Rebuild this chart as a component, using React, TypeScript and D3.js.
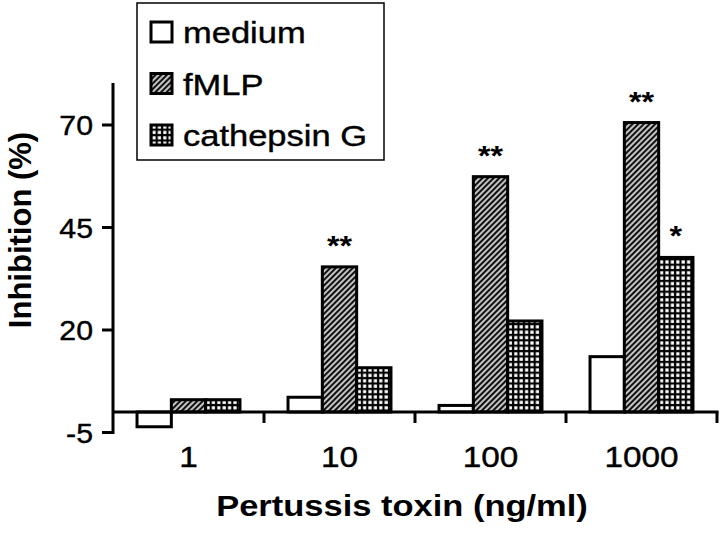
import React from "react";
import * as d3 from "d3";

const categories = ["1", "10", "100", "1000"];
const seriesNames = ["medium", "fMLP", "cathepsin G"];
const mediumValues = [-3.6, 3.6, 1.6, 13.5];
const fmlpValues = [3.0, 35.4, 57.4, 70.6];
const cathepsinValues = [3.0, 10.8, 22.2, 37.7];
const fmlpStars = ["", "**", "**", "**"];
const cathepsinStars = ["", "", "", "*"];
const yTicks = [-5, 20, 45, 70];

const FONT = "'Liberation Sans', Arial, Helvetica, sans-serif";
const SX = 1.15;

export default function App() {
  const W = 720, H = 534;
  const x = d3.scaleBand<string>().domain(categories).range([113, 717]).paddingInner(0).paddingOuter(0);
  const inner = d3.scaleBand<string>().domain(seriesNames).range([0, x.bandwidth()]).paddingInner(0).paddingOuter(0.7);
  const y = d3.scaleLinear().domain([-5, 80]).range([432.5, 84]);
  const fills = ["#fff", "url(#hatch)", "url(#grid)"];
  const allValues = [mediumValues, fmlpValues, cathepsinValues];
  const stars = [categories.map(() => ""), fmlpStars, cathepsinStars];
  const y0 = y(0);

  return (
    <svg width={W} height={H} style={{ position: "absolute", left: 0, top: 0, background: "#fff" }} fontFamily={FONT}>
      <defs>
        <pattern id="hatch" patternUnits="userSpaceOnUse" width={4} height={4} patternTransform="rotate(45)">
          <rect width={4} height={4} fill="#111" />
          <line x1={1} y1={0} x2={1} y2={4} stroke="#fff" strokeWidth={1.5} />
        </pattern>
        <pattern id="grid" patternUnits="userSpaceOnUse" width={5.4} height={5.4}>
          <rect width={5.4} height={5.4} fill="#000" />
          <rect x={1.2} y={1.2} width={3.2} height={3.2} fill="#fff" />
        </pattern>
      </defs>
      <rect width={W} height={H} fill="#fff" />

      {/* bars */}
      {seriesNames.map((s, si) =>
        categories.map((c, ci) => {
          const v = allValues[si][ci];
          const bx = (x(c) ?? 0) + (inner(s) ?? 0);
          const top = Math.min(y(v), y0);
          const h = Math.abs(y(v) - y0);
          return (
            <rect key={s + c} x={bx} y={top} width={inner.bandwidth()} height={h}
              fill={fills[si]} stroke="#000" strokeWidth={3} />
          );
        })
      )}

      {/* significance stars */}
      {seriesNames.map((s, si) =>
        categories.map((c, ci) => {
          const st = stars[si][ci];
          if (!st) return null;
          const cx = (x(c) ?? 0) + (inner(s) ?? 0) + inner.bandwidth() / 2;
          const ty = y(allValues[si][ci]) - 12;
          return (
            <text key={"st" + s + c} transform={`translate(${cx},${ty}) scale(${SX},1)`} textAnchor="middle"
              fontSize={28} fontWeight="bold">{st}</text>
          );
        })
      )}

      {/* y axis */}
      <line x1={113} x2={113} y1={83} y2={y(-5) + 1.5} stroke="#000" strokeWidth={3} />
      {yTicks.map((t) => (
        <g key={t}>
          <line x1={102} x2={113} y1={y(t)} y2={y(t)} stroke="#000" strokeWidth={3} />
          <text transform={`translate(93,${y(t) + 10}) scale(1.08,1)`} textAnchor="end" fontSize={28}
            stroke="#000" strokeWidth={0.4}>{t}</text>
        </g>
      ))}

      {/* x axis */}
      <line x1={113} x2={718.5} y1={y0} y2={y0} stroke="#000" strokeWidth={3} />
      {categories.map((c) => (
        <line key={"xt" + c} x1={(x(c) ?? 0) + x.bandwidth()} x2={(x(c) ?? 0) + x.bandwidth()}
          y1={y0} y2={y0 + 11} stroke="#000" strokeWidth={3} />
      ))}
      {categories.map((c) => (
        <text key={"xl" + c} transform={`translate(${(x(c) ?? 0) + x.bandwidth() / 2},467) scale(${SX},1)`}
          textAnchor="middle" fontSize={29} stroke="#000" strokeWidth={0.4}>{c}</text>
      ))}

      {/* axis titles */}
      <text transform={`translate(402,516) scale(${SX},1)`} textAnchor="middle" fontSize={30} fontWeight="bold">
        Pertussis toxin (ng/ml)
      </text>
      <text transform="translate(31,230) rotate(-90)" textAnchor="middle" fontSize={31} fontWeight="bold">
        Inhibition (%)
      </text>

      {/* legend */}
      <rect x={137} y={3} width={247} height={157} fill="#fff" stroke="#000" strokeWidth={1.5} />
      {seriesNames.map((s, i) => (
        <g key={"lg" + s}>
          <rect x={151} y={22 + i * 51.5} width={21} height={20} fill={fills[i]} stroke="#000" strokeWidth={3} />
          <text transform={`translate(183,${43 + i * 51.5}) scale(${SX},1)`} fontSize={30}
            stroke="#000" strokeWidth={0.4}>{s}</text>
        </g>
      ))}
    </svg>
  );
}
